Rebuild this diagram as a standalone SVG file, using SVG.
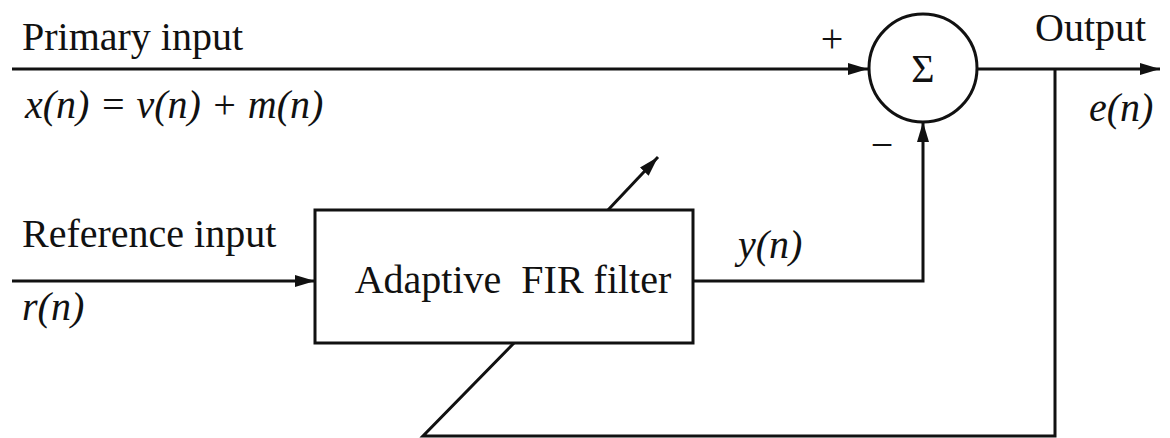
<svg xmlns="http://www.w3.org/2000/svg" width="1170" height="438" viewBox="0 0 1170 438">
<style>
.ln{fill:none;stroke:#111;stroke-width:3}
.box{fill:#fff;stroke:#111;stroke-width:3}
.t{font-family:"Liberation Serif",serif;font-size:40px;fill:#111}
.i{font-style:italic}
</style>
<defs>
<marker id="ah" viewBox="0 0 20 12" refX="20" refY="6" markerWidth="20" markerHeight="12" markerUnits="userSpaceOnUse" orient="auto">
<path d="M0,0 L20,6 L0,12 z" fill="#111"/>
</marker>
</defs>
<rect width="1170" height="438" fill="#fff"/>
<g id="connectors">
<line class="ln" x1="12" y1="69" x2="868" y2="69" marker-end="url(#ah)"/>
<line class="ln" x1="977" y1="69" x2="1160" y2="69" marker-end="url(#ah)"/>
<line class="ln" x1="12" y1="281" x2="315" y2="281" marker-end="url(#ah)"/>
<polyline class="ln" points="693,281 923,281 923,122" marker-end="url(#ah)"/>
<polyline class="ln" points="1055,69 1055,436 423,436 514,343"/>
<line class="ln" x1="608" y1="210" x2="658" y2="157" marker-end="url(#ah)"/>
</g>
<g id="sum">
<circle class="box" cx="923" cy="68" r="54"/>
<text class="t" x="923" y="82" text-anchor="middle" font-size="42">Σ</text>
</g>
<g id="filter">
<rect class="box" x="315" y="210" width="378" height="133"/>
<text class="t" x="513" y="293" text-anchor="middle" xml:space="preserve">Adaptive  FIR filter</text>
</g>
<g id="labels">
<text class="t" x="22" y="50">Primary input</text>
<text class="t i" x="25" y="118">x(n) = v(n) + m(n)</text>
<text class="t" x="22" y="247">Reference input</text>
<text class="t i" x="22" y="320">r(n)</text>
<text class="t i" x="738" y="258">y(n)</text>
<text class="t" x="832" y="52" text-anchor="middle" font-size="46">+</text>
<text class="t" x="882" y="158" text-anchor="middle" font-size="46">−</text>
<text class="t" x="1035" y="41">Output</text>
<text class="t i" x="1089" y="121">e(n)</text>
</g>
</svg>
